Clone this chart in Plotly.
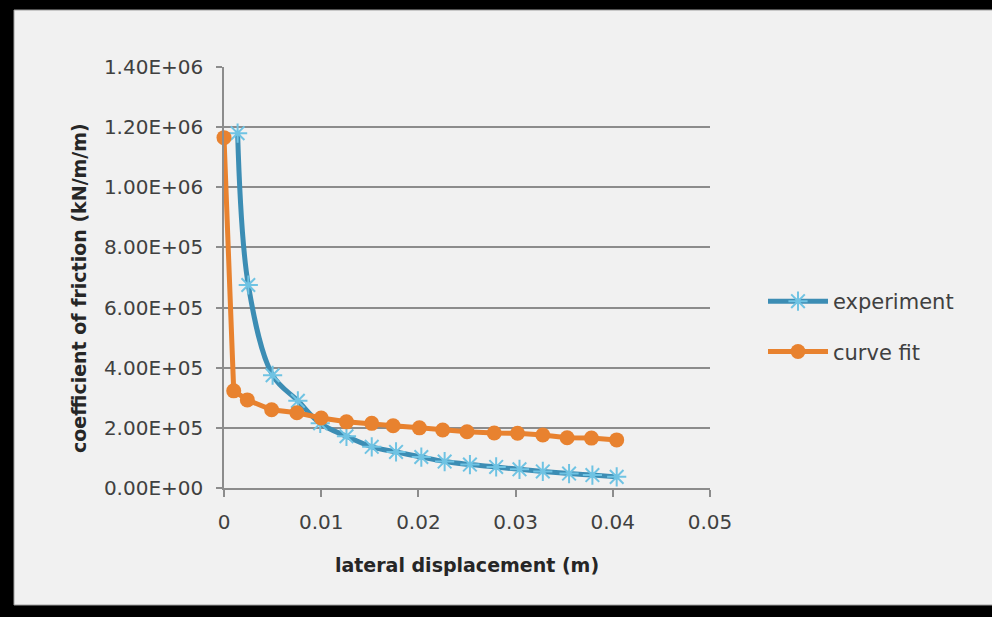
import plotly.graph_objects as go

# experiment data
exp_x = [0.0014, 0.0025, 0.005, 0.0076, 0.0099, 0.0126, 0.0152, 0.0177, 0.0203, 0.0227,
         0.0253, 0.028, 0.0304, 0.0328, 0.0355, 0.0379, 0.0404]
exp_y = [1.18e6, 6.75e5, 3.75e5, 2.9e5, 2.15e5, 1.72e5, 1.37e5, 1.2e5, 1.03e5, 0.88e5,
         0.78e5, 0.7e5, 0.62e5, 0.55e5, 0.48e5, 0.43e5, 0.37e5]

# curve fit data
fit_x = [0.0, 0.001, 0.0024, 0.0049, 0.0075, 0.01, 0.0126, 0.0152, 0.0174, 0.0201,
         0.0225, 0.025, 0.0278, 0.0302, 0.0328, 0.0353, 0.0378, 0.0404]
fit_y = [1.165e6, 3.23e5, 2.93e5, 2.6e5, 2.5e5, 2.33e5, 2.2e5, 2.15e5, 2.07e5, 2.0e5,
         1.93e5, 1.87e5, 1.83e5, 1.82e5, 1.76e5, 1.67e5, 1.66e5, 1.6e5]

y_ticks = [0, 2e5, 4e5, 6e5, 8e5, 1e6, 1.2e6, 1.4e6]
y_tick_labels = ["0.00E+00", "2.00E+05", "4.00E+05", "6.00E+05", "8.00E+05",
                 "1.00E+06", "1.20E+06", "1.40E+06"]
x_ticks = [0, 0.01, 0.02, 0.03, 0.04, 0.05]
x_tick_labels = ["0", "0.01", "0.02", "0.03", "0.04", "0.05"]

FONT = "DejaVu Sans"
fig = go.Figure()
fig.add_trace(go.Scatter(
    x=exp_x, y=exp_y, name="experiment", mode="lines+markers",
    line=dict(color="#3C8DB4", width=5, shape="spline", smoothing=1.0),
    marker=dict(symbol="asterisk-open", size=16, color="#6FC3E3",
                line=dict(color="#6FC3E3", width=2)),
    cliponaxis=False, legendgroup="a",
))
fig.add_trace(go.Scatter(
    x=fit_x, y=fit_y, name="curve fit", mode="lines+markers",
    line=dict(color="#E8822F", width=5),
    marker=dict(symbol="circle", size=15, color="#E8822F"),
    cliponaxis=False, legendgroup="b",
))

L, R, T, B = 224, 282, 67, 129
W, H = 992, 617
pw, ph = W - L - R, H - T - B

def px(xp):
    return (xp - L) / pw

def py(yp):
    return (H - B - yp) / ph

fig.add_shape(type="rect", xref="paper", yref="paper",
              x0=px(14), x1=px(1000), y0=py(605), y1=py(10),
              fillcolor="#F1F1F1", line=dict(color="#A0A0A0", width=1), layer="below")

fig.add_annotation(
    text="<b>coefficient of friction (kN/m/m)</b>", textangle=-90,
    xref="paper", yref="paper", x=px(79), y=py(288),
    xanchor="center", yanchor="middle", showarrow=False,
    font=dict(family=FONT, size=19, color="#262626"),
)

fig.update_layout(
    width=W, height=H,
    margin=dict(l=L, r=R, t=T, b=B),
    paper_bgcolor="black",
    plot_bgcolor="rgba(0,0,0,0)",
    font=dict(family=FONT, size=20, color="#404040"),
    showlegend=True,
    legend=dict(x=px(763), y=py(281), xanchor="left", yanchor="top",
                bgcolor="rgba(0,0,0,0)", tracegroupgap=20, itemwidth=60,
                font=dict(family=FONT, size=21, color="#404040")),
    xaxis=dict(
        range=[0, 0.05], tickvals=x_ticks, ticktext=x_tick_labels,
        showgrid=False, zeroline=False, showline=True, linecolor="#8C8C8C", linewidth=1.5,
        ticks="outside", ticklen=7, tickcolor="#8C8C8C", tickwidth=1.5,
        ticklabelstandoff=8,
        tickfont=dict(family=FONT, size=20, color="#404040"),
        title=dict(text="<b>lateral displacement (m)</b>", standoff=26,
                   font=dict(family=FONT, size=19, color="#262626")),
    ),
    yaxis=dict(
        range=[0, 1.4e6], tickvals=y_ticks, ticktext=y_tick_labels,
        showgrid=True, gridcolor="#8C8C8C", gridwidth=1.5,
        zeroline=False, showline=True, linecolor="#8C8C8C", linewidth=1.5,
        ticks="outside", ticklen=6, tickcolor="#8C8C8C", tickwidth=1.5,
        ticklabelstandoff=9,
        tickfont=dict(family=FONT, size=20, color="#404040"),
    ),
)

fig.write_html(
    "out.html",
    config={"displayModeBar": False},
    post_script="document.body.style.margin='0';document.body.style.background='black';"
                "document.body.style.overflow='hidden';",
)
